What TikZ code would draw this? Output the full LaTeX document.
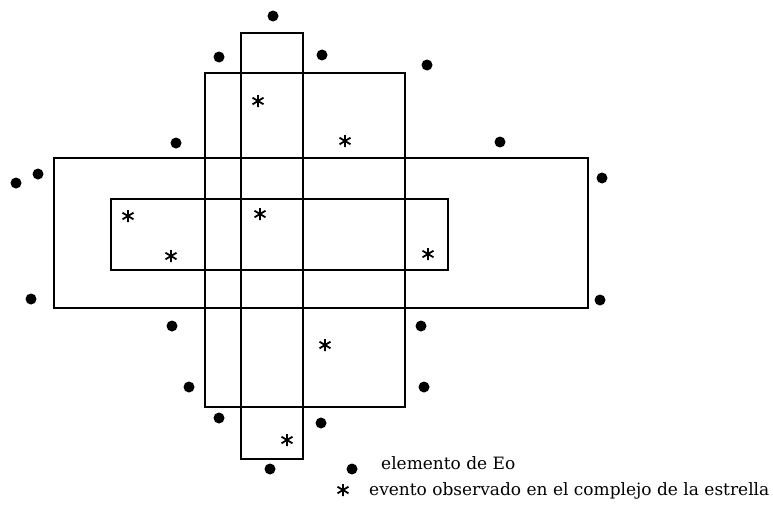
\documentclass[tikz,border=0pt]{standalone}
\usepackage{fontspec}
\setmainfont{DejaVu Serif}
\usetikzlibrary{positioning}
\tikzset{cell/.style={draw, line width=1.3pt},
  elem/.style={circle, fill, inner sep=0pt, minimum size=11pt},
  obs/.pic={\draw[line width=1.8pt] (0,-6) -- (0,6) (-5.5,-3.3) -- (5.5,3.3) (-5.5,3.3) -- (5.5,-3.3);},
  lbl/.style={anchor=base west, inner sep=0pt, font=\fontsize{17}{20}\selectfont}}

\begin{document}
\begin{tikzpicture}[x=1pt, y=-1pt]
  \useasboundingbox (0,0) rectangle (773,514);
  % the four blocks of the star complex
  \draw[cell] (241,33) rectangle (303,459);
  \draw[cell] (205,73) rectangle (405,407);
  \draw[cell] (54,158) rectangle (588,308);
  \draw[cell] (111,199) rectangle (448,270);
  % elements of Eo
  \foreach \p/\q [count=\i] in {273/16, 219/57, 322/55, 427/65, 176/143, 500/142,
      38/174, 16/183, 602/178, 31/299, 600/300, 172/326, 421/326,
      189/387, 424/387, 219/418, 321/423, 270/469}
    \node[elem] (e\i) at (\p,\q) {};
  % observed events
  \foreach \p/\q in {258/101, 345/141, 128/216, 260/214, 171/256, 428/254, 325/345, 287/440}
    \pic at (\p,\q) {obs};
  % legend
  \node[elem] (keyelem) at (352,469) {};
  \pic at (343,490) {obs};
  \node[lbl] (elemtxt) at (381,469) {elemento de Eo};
  \node[lbl] (obstxt) at (369,495) {evento observado en el complejo de la estrella};
\end{tikzpicture}
\end{document}
